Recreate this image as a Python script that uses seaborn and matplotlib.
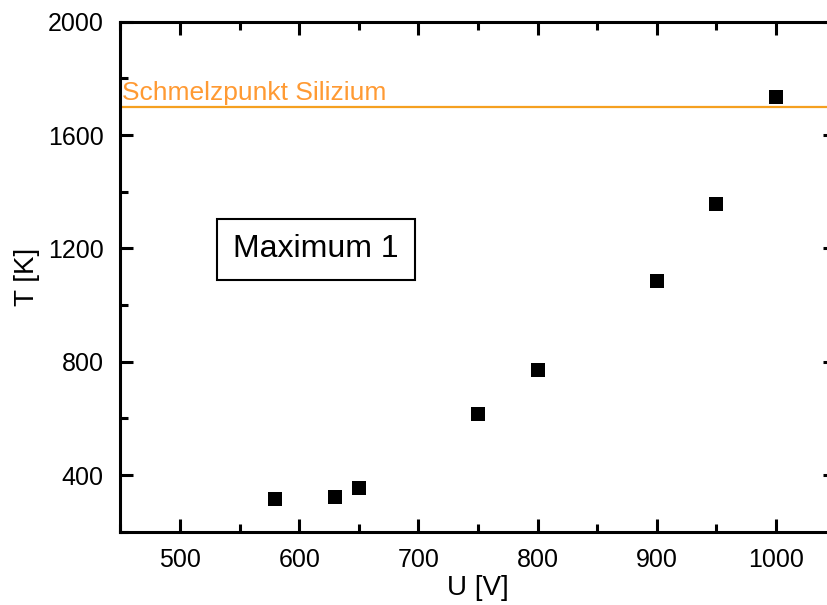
import matplotlib
matplotlib.use('Agg')
import matplotlib.pyplot as plt
import seaborn as sns
import pandas as pd
from matplotlib.ticker import MultipleLocator

# data
spannung = [580, 630, 650, 750, 800, 900, 950, 1000]
temperatur = [317, 324, 354, 614, 772, 1086, 1358, 1735]
schmelzpunkt = 1700
schmelz_label = 'Schmelzpunkt Silizium'
box_label = 'Maximum 1'

df = pd.DataFrame({'U': spannung, 'T': temperatur})

sns.set_style('ticks')
plt.rcParams['font.family'] = ['Liberation Sans', 'DejaVu Sans']
plt.rcParams['text.color'] = 'black'
plt.rcParams['axes.labelcolor'] = 'black'
plt.rcParams['xtick.color'] = 'black'
plt.rcParams['ytick.color'] = 'black'

fig = plt.figure(figsize=(8.28, 6.05), dpi=100)
ax = fig.add_axes([0.1454, 0.1212, 0.8638, 0.8429])

#orange melting point line
ax.axhline(schmelzpunkt, color='#F5A020', lw=1.6, zorder=1)
ax.text(451, schmelzpunkt + 22, schmelz_label, color='#FF9A33',
        fontsize=19, va='baseline', ha='left')

sns.scatterplot(data=df, x='U', y='T', marker='s', s=100, color='black',
                linewidth=0, ax=ax, zorder=3)

ax.text(614, 1196, box_label, fontsize=23, ha='center', va='center',
        bbox=dict(boxstyle='square,pad=0.5', fc='white', ec='black', lw=1.5))

ax.set_xlim(450, 1050)
ax.set_ylim(200, 2000)
ax.xaxis.set_major_locator(MultipleLocator(100))
ax.xaxis.set_minor_locator(MultipleLocator(50))
ax.yaxis.set_major_locator(MultipleLocator(400))
ax.yaxis.set_minor_locator(MultipleLocator(200))

ax.tick_params(which='both', direction='in', top=True, right=True, width=2.2,
               color='black')
ax.tick_params(which='major', length=9.5, labelsize=18, pad=12)
ax.tick_params(which='minor', length=6)
for s in ax.spines.values():
    s.set_linewidth(2.2)
    s.set_color('black')
    s.set_visible(True)

ax.set_xlabel('U [V]', fontsize=20, labelpad=2)
ax.set_ylabel('T [K]', fontsize=20, labelpad=6)

fig.savefig('out.png', dpi=100)
